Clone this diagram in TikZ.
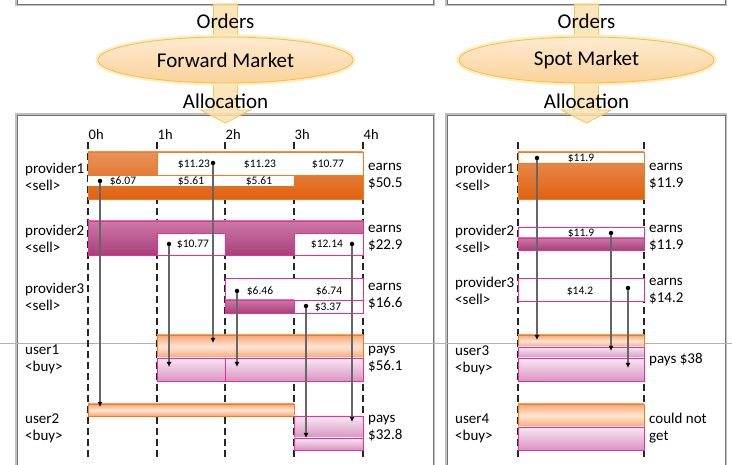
\documentclass[tikz,border=0pt]{standalone}
\usepackage{fontspec}
\setmainfont{Carlito}
\usepackage{xcolor}
\usepackage{tikz}
\usetikzlibrary{arrows.meta, shapes.geometric}

\definecolor{sellorange}{HTML}{E0620E}
\definecolor{sellorangetop}{HTML}{E8925A}
\definecolor{orangeline}{HTML}{F47920}
\definecolor{sellmagenta}{HTML}{A8407A}
\definecolor{sellmagentatop}{HTML}{CC78A8}
\definecolor{pinkline}{HTML}{EC2C98}
\definecolor{buyorange}{HTML}{F8A672}
\definecolor{buyorangelight}{HTML}{FDE6D6}
\definecolor{buypink}{HTML}{D994C2}
\definecolor{buypinklight}{HTML}{F8E8F2}
\definecolor{marketfill}{HTML}{FBD29A}
\definecolor{marketline}{HTML}{F6C03A}
\definecolor{bandfill}{HTML}{FDE0AE}
\definecolor{bandline}{HTML}{F9C650}

\begin{document}
\begin{tikzpicture}[
      x=1pt, y=-1pt,
      panel/.style={
        draw=black!55,
        line width=0.8pt,
        fill=white,
        preaction={draw=black!25, line width=4pt}
      },
      band/.style={
        draw=bandline,
        line width=0.8pt,
        fill=bandfill,
        fill opacity=0.85
      },
      market/.style={
        ellipse,
        draw=marketline,
        line width=0.8pt,
        top color=marketfill!45,
        bottom color=marketfill,
        minimum width=255pt,
        minimum height=46pt,
        font=\fontsize{21}{20}\selectfont,
        preaction={draw=marketline!30, line width=5pt}
      },
      head/.style={
        font=\fontsize{21}{20}\selectfont,
        inner sep=0pt
      },
      hour/.style={
        anchor=base west,
        font=\fontsize{14.5}{14}\selectfont,
        inner sep=0pt
      },
      lbl/.style={
        anchor=west,
        align=left,
        font=\fontsize{15}{17}\selectfont,
        inner sep=0pt
      },
      price/.style={
        font=\fontsize{11.5}{10}\selectfont,
        inner sep=0pt
      },
      tick/.style={
        black!85,
        line width=1.2pt,
        dash pattern=on 7pt off 4pt
      },
      sellO/.style={
        draw=orangeline,
        line width=0.8pt,
        top color=sellorangetop,
        bottom color=sellorange
      },
      sellM/.style={
        draw=pinkline,
        line width=0.8pt,
        top color=sellmagentatop,
        bottom color=sellmagenta
      },
      gapO/.style={draw=orangeline, line width=0.8pt, fill=white},
      gapM/.style={draw=pinkline, line width=0.8pt, fill=white},
      buyO/.style={
        draw=orangeline,
        line width=0.8pt,
        top color=buyorange,
        bottom color=buyorange,
        middle color=buyorangelight
      },
      buyP/.style={
        draw=pinkline,
        line width=0.8pt,
        top color=buypinklight,
        bottom color=buypink
      },
      dot/.style={
        circle,
        fill=black,
        inner sep=0pt,
        minimum size=4.5pt
      },
      flow/.style={
        draw=black!60,
        line width=1.8pt,
        -{Latex[length=5pt, width=5pt, color=black]}
      }
    ]

    \useasboundingbox (0,0) rectangle (732,465);

    \draw[panel] (17,-20) rectangle (433,4);
    \draw[panel] (447,-20) rectangle (725,4);
    \draw[panel] (17,115) rectangle (433,490);
    \draw[panel] (447,115) rectangle (725,490);

    \draw[band] (213.5,4) -- (237.5,4) -- (237.5,110) -- (250.5,110)
      -- (225.5,123) -- (200.5,110) -- (213.5,110) -- cycle;
    \draw[band] (574.5,4) -- (598.5,4) -- (598.5,110) -- (611.5,110)
      -- (586.5,123) -- (561.5,110) -- (574.5,110) -- cycle;

    \node[head] (ordersF) at (225.5,21) {Orders};
    \node[head] (ordersS) at (586.5,21) {Orders};
    \node[market] (fwd) at (225.5,60) {Forward Market};
    \node[market] (spot) at (586.5,60) {Spot Market};
    \node[head] (allocF) at (225.5,101) {Allocation};
    \node[head] (allocS) at (586.5,101) {Allocation};

    \draw[black!30, line width=0.6pt] (0,343) -- (732,343);

    \foreach \t/\h in {88/0h, 157/1h, 225/2h, 294/3h, 363/4h} {
      \draw[tick] (\t,142) -- (\t,460);
      \node[hour] at (\t+0.5,140) {\h};
    }
    \foreach \t in {518, 644}
      \draw[tick] (\t,142) -- (\t,460);

    \draw[sellO] (88,152) rectangle (363,199);
    \draw[gapO] (157,152) rectangle (363,175);
    \fill[white] (88,176) rectangle (294,186);
    \draw[sellM] (88,221) rectangle (363,255);
    \draw[gapM] (157,233) rectangle (225,255);
    \draw[gapM] (294,233) rectangle (363,255);
    \draw[gapM] (225,278) rectangle (363,313);
    \draw[sellM] (225,300) rectangle (294,313);
    \draw[gapM] (294,300) rectangle (363,313);
    \draw[buyO] (157,335) rectangle (363,358);
    \draw[buyP] (157,358) rectangle (225,381);
    \draw[buyP] (225,358) rectangle (363,381);
    \draw[buyO] (88,404) rectangle (294,416);
    \draw[buyP] (294,416) rectangle (363,438);
    \draw[buyP] (294,438) rectangle (363,450);

    \draw[sellO] (518,152) rectangle (644,199);
    \draw[gapO] (518,152) rectangle (644,163);
    \draw[gapM] (518,227) rectangle (644,238);
    \draw[sellM] (518,238) rectangle (644,250);
    \draw[gapM] (518,278) rectangle (644,301);
    \draw[buyO] (518,335) rectangle (644,347);
    \draw[buyP] (518,347) rectangle (644,358);
    \draw[buyP] (518,358) rectangle (644,381);
    \draw[buyO] (518,404) rectangle (644,427);
    \draw[buyP] (518,427) rectangle (644,450);

    \node[price] (p1a) at (194,164) {\$11.23};
    \node[price] (p1b) at (260,164) {\$11.23};
    \node[price] (p1c) at (328,164) {\$10.77};
    \node[price] (p1d) at (123,181) {\$6.07};
    \node[price] (p1e) at (191,181) {\$5.61};
    \node[price] (p1f) at (259,181) {\$5.61};
    \node[price] (p2a) at (193,244) {\$10.77};
    \node[price] (p2b) at (327,244) {\$12.14};
    \node[price] (p3a) at (260,291) {\$6.46};
    \node[price] (p3b) at (329,291) {\$6.74};
    \node[price] (p3c) at (328,307) {\$3.37};
    \node[price] (q1a) at (581,158) {\$11.9};
    \node[price] (q2a) at (581,233) {\$11.9};
    \node[price] (q3a) at (580,291) {\$14.2};

    \node[lbl] (prov1F) at (25,176.5) {provider1\\<sell>};
    \node[lbl] (prov2F) at (25,238.5) {provider2\\<sell>};
    \node[lbl] (prov3F) at (25,296.5) {provider3\\<sell>};
    \node[lbl] (user1F) at (25,359) {user1\\<buy>};
    \node[lbl] (user2F) at (25,428) {user2\\<buy>};
    \node[lbl] (earn1F) at (368,176.5) {earns\\\$50.5};
    \node[lbl] (earn2F) at (368,238.5) {earns\\\$22.9};
    \node[lbl] (earn3F) at (368,296.5) {earns\\\$16.6};
    \node[lbl] (pay1F) at (368,359) {pays\\\$56.1};
    \node[lbl] (pay2F) at (368,428.5) {pays\\\$32.8};

    \node[lbl] (prov1S) at (455,176.5) {provider1\\<sell>};
    \node[lbl] (prov2S) at (455,238.5) {provider2\\<sell>};
    \node[lbl] (prov3S) at (455,291) {provider3\\<sell>};
    \node[lbl] (user3S) at (455,360) {user3\\<buy>};
    \node[lbl] (user4S) at (455,428) {user4\\<buy>};
    \node[lbl] (earn1S) at (649,176.5) {earns\\\$11.9};
    \node[lbl] (earn2S) at (649,238.5) {earns\\\$11.9};
    \node[lbl] (earn3S) at (649,291) {earns\\\$14.2};
    \node[lbl] (pay3S) at (649,360) {pays \$38};
    \node[lbl] (fail4S) at (649,428) {could not\\get};

    \node[dot] (d1) at (100,181) {};
    \node[dot] (d2) at (213,163) {};
    \node[dot] (d3) at (169,244) {};
    \node[dot] (d4) at (352,244) {};
    \node[dot] (d5) at (237,291) {};
    \node[dot] (d6) at (306,306) {};
    \node[dot] (s1) at (537,158) {};
    \node[dot] (s2) at (611,233) {};
    \node[dot] (s3) at (628,288) {};

    \coordinate (t1) at (100,407);
    \coordinate (t2) at (213,343);
    \coordinate (t3) at (169,367);
    \coordinate (t4) at (352,422);
    \coordinate (t5) at (237,367);
    \coordinate (t6) at (306,438);
    \coordinate (r1) at (537,340);
    \coordinate (r2) at (611,351);
    \coordinate (r3) at (628,368);

    \draw[flow] (d1) -- (t1);
    \draw[flow] (d2) -- (t2);
    \draw[flow] (d3) -- (t3);
    \draw[flow] (d4) -- (t4);
    \draw[flow] (d5) -- (t5);
    \draw[flow] (d6) -- (t6);
    \draw[flow] (s1) -- (r1);
    \draw[flow] (s2) -- (r2);
    \draw[flow] (s3) -- (r3);

    \end{tikzpicture}
\end{document}
